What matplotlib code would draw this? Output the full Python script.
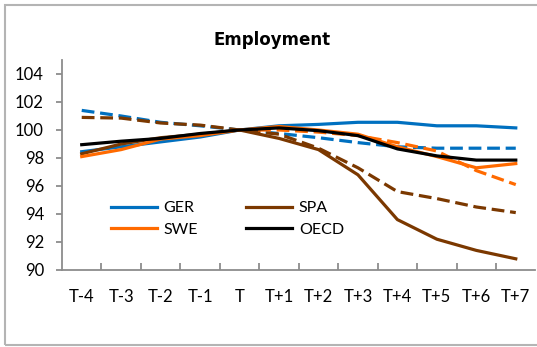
import matplotlib
matplotlib.use("Agg")
import matplotlib.pyplot as plt
from matplotlib.patches import Rectangle

plt.rcParams["font.family"] = ["Lato", "DejaVu Sans"]

periods = ["T-4", "T-3", "T-2", "T-1", "T", "T+1", "T+2", "T+3", "T+4", "T+5", "T+6", "T+7"]

# solid lines
ger = [98.45, 98.8, 99.15, 99.5, 100.0, 100.3, 100.4, 100.55, 100.55, 100.3, 100.3, 100.15]
spa = [98.3, 99.0, 99.45, 99.7, 100.0, 99.4, 98.6, 96.8, 93.6, 92.2, 91.4, 90.8]
swe = [98.1, 98.6, 99.35, 99.6, 100.0, 100.25, 100.0, 99.7, 98.8, 98.1, 97.3, 97.6]
oecd = [98.95, 99.2, 99.4, 99.75, 100.0, 100.15, 99.95, 99.6, 98.65, 98.15, 97.85, 97.85]

# dashed lines
ger_d = [101.4, 101.0, 100.55, 100.3, 100.0, 99.75, 99.45, 99.1, 98.8, 98.7, 98.7, 98.7]
spa_d = [100.9, 100.85, 100.5, 100.35, 100.0, 99.7, 98.7, 97.3, 95.6, 95.1, 94.5, 94.1]
swe_d = [None, None, None, None, 100.0, 100.0, 99.85, 99.6, 99.1, 98.5, 97.1, 96.1]

c_ger = "#0070c0"
c_spa = "#7b3800"
c_swe = "#ff6a00"
c_oecd = "#000000"

W, H = 537, 347
fig = plt.figure(figsize=(W / 100, H / 100), dpi=100)
ax = fig.add_axes([62 / W, (H - 270) / H, 473.5 / W, 210 / H])

x = list(range(len(periods)))
lw = 2.3
dash = (0, (4, 1.8))

xs = [i for i, v in zip(x, swe_d) if v is not None]
ys = [v for v in swe_d if v is not None]
ax.plot(x, ger_d, color=c_ger, lw=lw, ls=dash)
ax.plot(x, spa_d, color=c_spa, lw=lw, ls=dash)
ax.plot(xs, ys, color=c_swe, lw=lw, ls=dash)

l_ger, = ax.plot(x, ger, color=c_ger, lw=lw, label="GER")
l_spa, = ax.plot(x, spa, color=c_spa, lw=lw, label="SPA")
l_swe, = ax.plot(x, swe, color=c_swe, lw=lw, label="SWE")
l_oecd, = ax.plot(x, oecd, color=c_oecd, lw=lw, label="OECD")

ax.set_xlim(-0.5, len(periods) - 0.5)
ax.set_ylim(90, 105)
ax.set_yticks(range(90, 105, 2))
ax.set_xticks(x)
ax.set_xticklabels(periods)
ax.set_xticks([i + 0.5 for i in x[:-1]], minor=True)

for s in ["top", "right"]:
    ax.spines[s].set_visible(False)
for s in ["left", "bottom"]:
    ax.spines[s].set_color("#8c8c8c")
    ax.spines[s].set_linewidth(1.3)

ax.tick_params(axis="y", length=4, width=1.3, color="#8c8c8c", pad=9, labelsize=12)
ax.tick_params(axis="x", which="major", length=0, pad=14, labelsize=12)
ax.tick_params(axis="x", which="minor", direction="in", length=5, width=1.3, color="#8c8c8c")

fig.text(272 / W, 1 - 40 / H, "Employment", ha="center", va="center",
         fontsize=12, fontweight="bold", family="DejaVu Sans")

ax.legend(handles=[l_ger, l_swe, l_spa, l_oecd], ncol=2, frameon=False,
          loc="upper left", bbox_to_anchor=(111 / W, 1 - 201 / H),
          bbox_transform=fig.transFigure, borderpad=0, borderaxespad=0,
          fontsize=11.5, handlelength=2.9, handletextpad=0.4,
          columnspacing=3.0, labelspacing=0.45)

fig.patches.append(Rectangle((5 / W, 2 / H), 1.0, 1 - 7 / H, transform=fig.transFigure,
                             fill=False, edgecolor="#b4b4b4", lw=1.5))

fig.savefig("out.png", dpi=100)
